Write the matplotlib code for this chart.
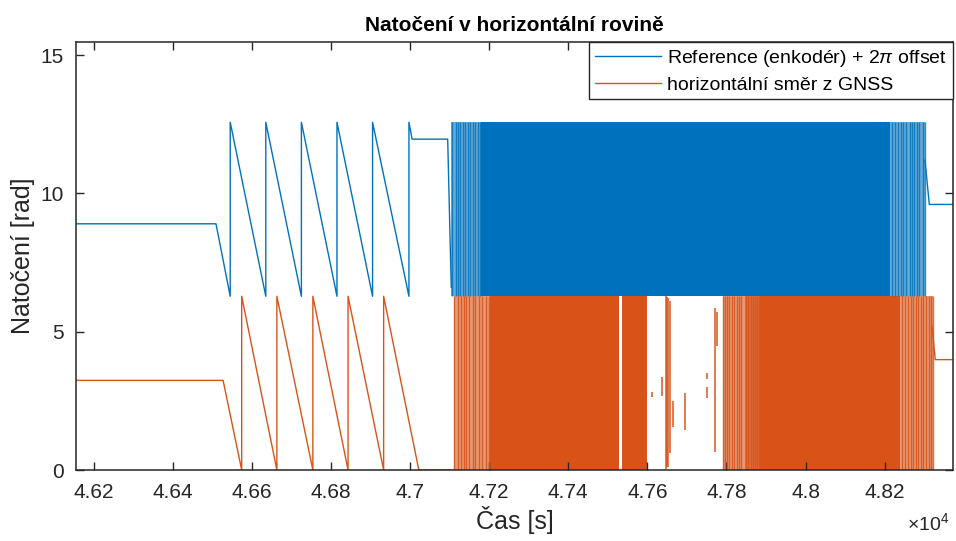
import numpy as np
import matplotlib
matplotlib.use('Agg')
import matplotlib.pyplot as plt

plt.rcParams['font.family'] = ['Liberation Sans', 'DejaVu Sans']
plt.rcParams['mathtext.fontset'] = 'custom'
plt.rcParams['mathtext.rm'] = 'Liberation Sans'
plt.rcParams['mathtext.it'] = 'Liberation Sans:italic'

modra = '#0072BD'
oranzova = '#D95319'

# --- data ---
# reference (enkoder) + 2pi, ridke useky (cas [s], uhel [rad])
ref_t = [46155, 46509, 46545, 46545, 46635, 46635, 46725, 46725, 46815, 46815,
         46905, 46905, 46997, 46997, 47005, 47095, 47104]
ref_y = [8.9, 8.9, 6.28, 12.57, 6.28, 12.57, 6.28, 12.57, 6.28, 12.57,
         6.28, 12.57, 6.28, 12.57, 11.96, 11.96, 6.6]
ref_konec_t = [48302, 48313, 48373]
ref_konec_y = [11.2, 9.6, 9.6]

# horizontalni smer z GNSS, ridke useky
gnss_t = [46155, 46527, 46574, 46574, 46663, 46663, 46754, 46754, 46843, 46843,
          46933, 46933, 47022, 47110]
gnss_y = [3.24, 3.24, 0, 6.28, 0, 6.28, 0, 6.28, 0, 6.28,
          0, 6.28, 0, 0]
gnss_konec_t = [48320, 48328, 48373]
gnss_konec_y = [5.2, 3.99, 3.99]

# husta rotace (rychla pila mezi 0 a 2pi) - intervaly casu
ref_husto = [(47180, 48214)]
ref_ridce = [(47104, 47180), (48214, 48303)]
ref_cary = [47106, 47115, 47121, 47127, 47133, 47140, 47146, 47152, 47159, 47165,
            47171, 47177, 48218, 48226, 48235, 48241, 48247, 48254, 48263, 48269,
            48275, 48281, 48288, 48297, 48302]

gnss_husto = [(47201, 47528), (47536, 47600), (47885, 48239)]
gnss_ridce = [(47110, 47201), (47792, 47846), (48239, 48322)]
gnss_skoro = [(47846, 47885)]
gnss_cary = [47112, 47121, 47129, 47135, 47142, 47150, 47159, 47165, 47174, 47182,
             47191, 47199, 47792, 47796, 47802, 47807, 47813, 47819, 47826, 47832,
             47838, 47849, 47855, 47861, 47868, 47872, 47878, 47883,
             48243, 48252, 48260, 48266, 48273, 48280, 48285, 48291, 48298, 48305,
             48311, 48317, 48322]
# kratke useky v mezere (cas, od, do)
gnss_useky = [(47612, 2.64, 2.82), (47636, 2.66, 3.37), (47647, 0.05, 6.28),
              (47650, 0.1, 6.25), (47653, 0.1, 6.2), (47657, 0.6, 6.1),
              (47665, 1.57, 2.5), (47694, 1.45, 2.8), (47750, 3.3, 3.5),
              (47750, 2.6, 3.0), (47771, 0.66, 5.87), (47775, 4.5, 5.7)]

fig = plt.figure(figsize=(9.56, 5.41), dpi=100)
ax = fig.add_axes([0.0795, 0.1312, 0.9174, 0.7906])

dole, nahore = 6.28, 12.57
l1, = ax.plot(ref_t, ref_y, color=modra, lw=1.0)
ax.plot(ref_konec_t, ref_konec_y, color=modra, lw=1.0)
for a, b in ref_husto:
    ax.fill_between([a, b], dole, nahore, color=modra, lw=0)
for a, b in ref_ridce:
    ax.fill_between([a, b], dole, nahore, color=modra, alpha=0.6, lw=0)
ax.vlines(ref_cary, dole, nahore, color=modra, lw=1.0, alpha=0.8)

l2, = ax.plot(gnss_t, gnss_y, color=oranzova, lw=1.0)
ax.plot(gnss_konec_t, gnss_konec_y, color=oranzova, lw=1.0)
for a, b in gnss_husto:
    ax.fill_between([a, b], 0, 6.28, color=oranzova, lw=0)
for a, b in gnss_ridce:
    ax.fill_between([a, b], 0, 6.28, color=oranzova, alpha=0.6, lw=0)
for a, b in gnss_skoro:
    ax.fill_between([a, b], 0, 6.28, color=oranzova, alpha=0.85, lw=0)
ax.vlines(gnss_cary, 0, 6.28, color=oranzova, lw=1.0, alpha=0.85)
for t, y0, y1 in gnss_useky:
    ax.vlines(t, y0, y1, color=oranzova, lw=1.2, alpha=0.9)

ax.set_xlim(46155, 48373)
ax.set_ylim(0, 15.46)
xt = np.arange(46200, 48201, 200)
ax.set_xticks(xt)
ax.set_xticklabels([f'{v / 1e4:g}' for v in xt])
ax.set_yticks([0, 5, 10, 15])

for s in ax.spines.values():
    s.set_color('#262626')
    s.set_linewidth(1.1)
ax.tick_params(direction='in', length=5.5, width=1.0, colors='#262626',
               labelsize=15, top=True, right=True, pad=9)
for lab in ax.get_xticklabels() + ax.get_yticklabels():
    lab.set_color('#262626')

ax.set_title('Natočení v horizontální rovině', fontsize=15, fontweight='bold', pad=8)
ax.set_xlabel('Čas [s]', fontsize=18, color='#262626', labelpad=3)
ax.set_ylabel('Natočení [rad]', fontsize=18, color='#262626', labelpad=4)
fig.text(0.993, 0.012, r'$\times10^{4}$', fontsize=14, color='#262626', ha='right', va='bottom')

leg = ax.legend([l1, l2], [r'Reference (enkodér) + 2$\pi$ offset', 'horizontální směr z GNSS'],
                loc='upper right', bbox_to_anchor=(0.9995, 1.0), fontsize=14,
                fancybox=False, framealpha=1, edgecolor='#262626', borderaxespad=0,
                handlelength=3.4, handletextpad=0.3, labelspacing=0.35,
                borderpad=0.3)
leg.get_frame().set_linewidth(1.0)

fig.savefig('out.png', dpi=100)
